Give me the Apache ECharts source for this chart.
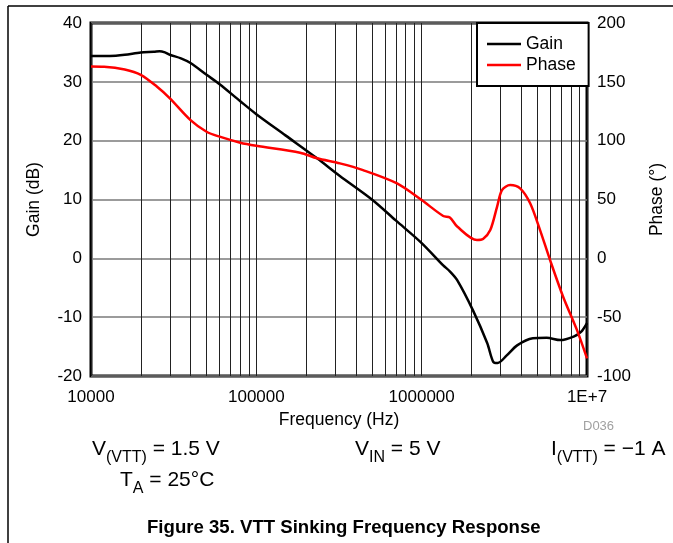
<!DOCTYPE html>
<html>
<head>
<meta charset="utf-8">
<script src="https://cdn.jsdelivr.net/npm/echarts@6/dist/echarts.min.js"></script>
<style>
  html, body { margin: 0; padding: 0; background: #fff; }
  #chart { width: 673px; height: 543px; }
</style>
</head>
<body>
<div id="chart"></div>
<script>
// Loop gain of the VTT regulator while sinking current
const gainFreq = [1e4, 1.3e4, 1.6e4, 2e4, 2.4e4, 2.6e4, 2.8e4, 3e4, 3.5e4, 4e4, 5e4, 6e4, 8e4, 1e5,
  1.5e5, 2.33e5, 3.2e5, 5e5, 7e5, 1e6, 1.35e6, 1.48e6, 1.64e6, 2.04e6, 2.49e6, 2.71e6, 2.88e6,
  3.27e6, 3.78e6, 4.7e6, 5.7e6, 6.9e6, 8.3e6, 9.2e6, 1e7];
const gainDb = [34.4, 34.4, 34.6, 35.0, 35.1, 35.2, 35.0, 34.6, 34.0, 33.2, 31.2, 29.6, 26.7, 24.5,
  20.9, 17.0, 14.0, 10.0, 6.4, 2.6, -1.2, -2.2, -3.7, -8.8, -14.4, -17.6, -17.8,
  -16.5, -14.8, -13.6, -13.5, -13.9, -13.3, -12.5, -11.0];

// Loop phase
const phaseFreq = [1e4, 1.2e4, 1.6e4, 2e4, 2.5e4, 3e4, 4e4, 5e4, 6e4, 8e4, 1e5, 1.84e5, 2.33e5,
  3.2e5, 4.42e5, 7.1e5, 1e6, 1.35e6, 1.48e6, 1.64e6, 2.16e6, 2.35e6, 2.6e6, 2.86e6, 3.06e6,
  3.43e6, 3.94e6, 4.53e6, 5.2e6, 5.98e6, 7.17e6, 8.7e6, 1e7];
const phaseDeg = [163, 162.8, 160.5, 156, 146, 136, 117.5, 107.6, 103.4, 98.3, 95.7, 89.8, 85,
  80.7, 75, 63.7, 49.5, 36, 34.8, 27, 15.5, 16.4, 24, 44, 58,
  62.3, 59.5, 46.8, 24, -1.5, -32.6, -61, -85];

// Axis labels
const freqTickLabels = { 4: '10000', 5: '100000', 6: '1000000', 7: '1E+7' };
const gainTicks = { min: -20, max: 40, interval: 10 };
const phaseTicks = { min: -100, max: 200, interval: 50 };

// Minor log grid lines (2..9 within each decade)
const minorFreqs = [];
[1e4, 1e5, 1e6].forEach(d => { for (let m = 2; m <= 9; m++) minorFreqs.push(d * m); });

const FONT = 'Liberation Sans, Arial, sans-serif';
const zip = (xs, ys) => xs.map((x, i) => [x, ys[i]]);

// Condition text with subscripts
const condRich = {
  m: { fontFamily: FONT, fontSize: 21, fill: '#000', lineHeight: 22, verticalAlign: 'top' },
  s: { fontFamily: FONT, fontSize: 16, fill: '#000', lineHeight: 16, verticalAlign: 'top', padding: [11, 0, 0, 0] }
};
const cond = (text, left, top) => ({
  type: 'text', left, top,
  style: { text, rich: condRich }
});

const chart = echarts.init(document.getElementById('chart'), null, { renderer: 'canvas' });

chart.setOption({
  animation: false,
  backgroundColor: '#fff',
  textStyle: { fontFamily: FONT },
  grid: {
    left: 91, top: 23, right: 86, bottom: 167,
    containLabel: false, outerBoundsMode: 'none',
    show: true, borderColor: '#000', borderWidth: 3, backgroundColor: 'transparent'
  },
  legend: {
    data: ['Gain', 'Phase'],
    orient: 'vertical',
    left: 477, top: 23,
    padding: [12, 13, 12, 10],
    itemGap: 3,
    icon: 'rect',
    itemWidth: 34, itemHeight: 2.5,
    backgroundColor: '#fff',
    borderColor: '#000', borderWidth: 2, borderRadius: 0,
    textStyle: { fontFamily: FONT, fontSize: 17.5, color: '#000', lineHeight: 17 },
    z: 10
  },
  xAxis: {
    type: 'log', logBase: 10, min: 1e4, max: 1e7,
    name: 'Frequency (Hz)', nameLocation: 'middle', nameGap: 32,
    nameTextStyle: { fontFamily: FONT, fontSize: 17.5, color: '#000' },
    axisLine: { show: false },
    axisTick: { show: false },
    axisLabel: {
      fontFamily: FONT, fontSize: 17, color: '#000', margin: 13,
      formatter: v => freqTickLabels[Math.round(Math.log10(v))] || ''
    },
    splitLine: { show: true, lineStyle: { color: '#222', width: 1 } }
  },
  yAxis: [
    {
      type: 'value', min: gainTicks.min, max: gainTicks.max, interval: gainTicks.interval,
      name: 'Gain (dB)', nameLocation: 'middle', nameGap: 48,
      nameTextStyle: { fontFamily: FONT, fontSize: 17.5, color: '#000' },
      axisLine: { show: false }, axisTick: { show: false },
      axisLabel: { fontFamily: FONT, fontSize: 17, color: '#000', margin: 9 },
      splitLine: { show: true, lineStyle: { color: '#7a7a7a', width: 1.5 } }
    },
    {
      type: 'value', min: phaseTicks.min, max: phaseTicks.max, interval: phaseTicks.interval,
      name: 'Phase (°)', nameLocation: 'middle', nameGap: 61,
      nameTextStyle: { fontFamily: FONT, fontSize: 17.5, color: '#000' },
      axisLine: { show: false }, axisTick: { show: false },
      axisLabel: { fontFamily: FONT, fontSize: 17, color: '#000', margin: 10 },
      splitLine: { show: false }
    }
  ],
  series: [
    {
      name: 'grid-minor', type: 'line', data: [], z: 1, silent: true,
      symbol: 'none', lineStyle: { opacity: 0 },
      markLine: {
        silent: true, symbol: ['none', 'none'], label: { show: false },
        lineStyle: { type: 'solid', color: '#222', width: 1 },
        emphasis: { disabled: true },
        data: minorFreqs.map(f => ({ xAxis: f }))
      }
    },
    {
      name: 'Gain', type: 'line', yAxisIndex: 0, z: 5,
      data: zip(gainFreq, gainDb),
      symbol: 'none', smooth: 0.3,
      lineStyle: { color: '#000', width: 2.5 },
      itemStyle: { color: '#000' }
    },
    {
      name: 'Phase', type: 'line', yAxisIndex: 1, z: 5,
      data: zip(phaseFreq, phaseDeg),
      symbol: 'none', smooth: 0.3,
      lineStyle: { color: '#ff0000', width: 2.5 },
      itemStyle: { color: '#ff0000' }
    }
  ],
  graphic: [
    // page frame
    { type: 'line', shape: { x1: 8, y1: 6, x2: 673, y2: 6 }, style: { stroke: '#000', lineWidth: 1.5 } },
    { type: 'line', shape: { x1: 8, y1: 6, x2: 8, y2: 543 }, style: { stroke: '#000', lineWidth: 1.5 } },
    {
      type: 'text', left: 583, top: 420,
      style: { text: 'D036', fontFamily: FONT, fontSize: 13, fill: '#a0a0a0' }
    },
    cond('{m|V}{s|(VTT)}{m| = 1.5 V}', 92, 439),
    cond('{m|T}{s|A}{m| = 25°C}', 120, 470),
    cond('{m|V}{s|IN}{m| = 5 V}', 355, 439),
    cond('{m|I}{s|(VTT)}{m| = \u22121 A}', 551, 439),
    {
      type: 'text', left: 147, top: 518,
      style: {
        text: 'Figure 35. VTT Sinking Frequency Response',
        fontFamily: FONT, fontSize: 18.6, fontWeight: 'bold', fill: '#000'
      }
    }
  ]
});
</script>
</body>
</html>
